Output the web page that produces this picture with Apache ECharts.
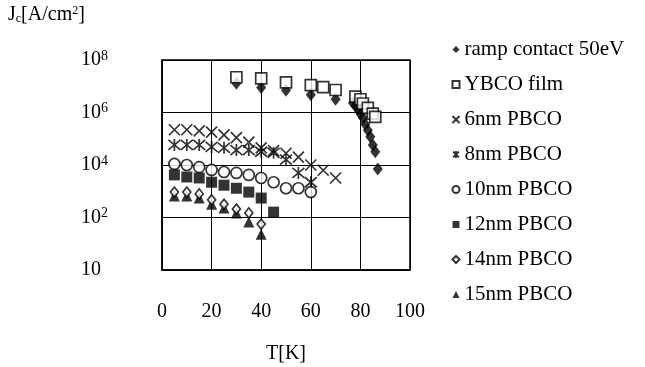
<!DOCTYPE html>
<html>
<head>
<meta charset="utf-8">
<script src="https://cdn.jsdelivr.net/npm/echarts@6/dist/echarts.min.js"></script>
<style>
  html, body { margin: 0; padding: 0; background: #fff; }
  #chart { width: 645px; height: 367px; }
</style>
</head>
<body>
<div id="chart"></div>
<script>
const FONT = "Liberation Serif";

// temperature [K] and critical current density [A/cm2]
const rampT = [30, 40, 50, 60, 70, 77, 78, 79, 80, 81, 82, 83, 84, 85, 86, 87];
const rampJc = [1.3e7, 9e6, 7e6, 4.7e6, 3.2e6, 2.3e6, 1.8e6, 1.3e6, 9e5, 6.3e5, 3.6e5, 2.1e5, 1.2e5, 5.8e4, 3.2e4, 7e3];

const ybcoT = [30, 40, 50, 60, 65, 70, 78, 80, 81, 83, 85, 86];
const ybcoJc = [2.2e7, 2e7, 1.4e7, 1.1e7, 9.3e6, 7.2e6, 4e6, 3.2e6, 2.2e6, 1.5e6, 9e5, 6.8e5];

const pb6T = [5, 10, 15, 20, 25, 30, 35, 40, 45, 50, 55, 60, 65, 70];
const pb6Jc = [2.2e5, 2.2e5, 2e5, 1.8e5, 1.4e5, 1.1e5, 7.5e4, 4.5e4, 3.5e4, 2.8e4, 2e4, 1e4, 6.3e3, 3.2e3];

const pb8T = [5, 10, 15, 20, 25, 30, 35, 40, 45, 50, 55, 60];
const pb8Jc = [5.8e4, 5.8e4, 5.8e4, 4.9e4, 4.5e4, 3.7e4, 3.7e4, 3.2e4, 2.9e4, 1.6e4, 5e3, 2.2e3];

const pb10T = [5, 10, 15, 20, 25, 30, 35, 40, 45, 50, 55, 60];
const pb10Jc = [1.1e4, 1e4, 8.3e3, 6.5e3, 5.4e3, 5e3, 4.2e3, 3.2e3, 2.2e3, 1.3e3, 1.3e3, 930];

const pb12T = [5, 10, 15, 20, 25, 30, 35, 40, 45];
const pb12Jc = [4.2e3, 3.5e3, 3.2e3, 2.2e3, 1.7e3, 1.3e3, 930, 550, 160];

const pb14T = [5, 10, 15, 20, 25, 30, 35, 40];
const pb14Jc = [930, 930, 790, 470, 320, 210, 150, 56];

const pb15T = [5, 10, 15, 20, 25, 30, 35, 40];
const pb15Jc = [660, 660, 550, 320, 230, 150, 68, 23];

const xTicks = [0, 20, 40, 60, 80, 100];

const pairs = (t, v) => t.map((x, i) => [x, v[i]]);

const CROSS = "path://M0,0L10,10M10,0L0,10";
const STAR = "path://M0,0L10,10M10,0L0,10M5,-1L5,11";

const filled = { color: "#000", borderWidth: 0 };
const hollow = { color: "#fff", borderColor: "#000", borderWidth: 1.7 };
const stroke = { color: "none", borderColor: "#000", borderWidth: 1.7 };

const chart = echarts.init(document.getElementById("chart"), null, { renderer: "canvas" });

chart.setOption({
  animation: false,
  backgroundColor: "#fff",
  textStyle: { fontFamily: FONT, color: "#000" },
  grid: {
    left: 162, top: 60, width: 248, height: 210,
    outerBoundsMode: "none",
    show: true, borderColor: "#000", borderWidth: 1.5, backgroundColor: "transparent",
  },
  legend: {
    orient: "vertical",
    left: 445,
    top: 34,
    itemWidth: 7,
    itemHeight: 7,
    itemGap: 14,
    textStyle: { fontFamily: FONT, fontSize: 21, color: "#000", lineHeight: 21 },
    data: [
      "ramp contact 50eV", "YBCO film", "6nm PBCO", "8nm PBCO",
      "10nm PBCO", "12nm PBCO", "14nm PBCO", "15nm PBCO",
    ],
  },
  graphic: [
    {
      type: "text",
      left: 8,
      top: 5,
      style: {
        text: "J{sub|c}[A/cm{sup|2}]",
        font: `20px "${FONT}"`,
        fill: "#000",
        rich: {
          sub: { fontSize: 12, fontFamily: FONT, verticalAlign: "bottom", lineHeight: 14 },
          sup: { fontSize: 12, fontFamily: FONT, verticalAlign: "top", lineHeight: 12 },
        },
      },
    },
  ],
  xAxis: {
    type: "value",
    min: xTicks[0],
    max: xTicks[xTicks.length - 1],
    interval: 20,
    name: "T[K]",
    nameLocation: "middle",
    nameGap: 74,
    nameTextStyle: { fontFamily: FONT, fontSize: 20, color: "#000" },
    axisLine: { lineStyle: { color: "#000", width: 1.5 } },
    axisTick: { show: false },
    axisLabel: { margin: 32, fontFamily: FONT, fontSize: 20, color: "#000" },
    splitLine: { show: true, lineStyle: { color: "#000", width: 1 } },
  },
  yAxis: {
    type: "log",
    logBase: 100,
    min: 1,
    max: 1e8,
    splitNumber: 4,
    axisLine: { show: true, lineStyle: { color: "#000", width: 1.5 } },
    axisTick: { show: false },
    axisLabel: {
      margin: 81,
      align: "left",
      formatter: (v) => {
        const e = Math.round(Math.log10(v));
        return e === 0 ? "{b|10}" : `{b|10}{s|${e}}`;
      },
      rich: {
        b: { fontFamily: FONT, fontSize: 20, color: "#000", lineHeight: 22 },
        s: { fontFamily: FONT, fontSize: 14, color: "#000", verticalAlign: "top", lineHeight: 14 },
      },
    },
    splitLine: { show: true, lineStyle: { color: "#000", width: 1 } },
  },
  series: [
    { name: "ramp contact 50eV", type: "scatter", symbol: "diamond", symbolSize: [10, 13], itemStyle: filled, data: pairs(rampT, rampJc) },
    { name: "YBCO film", type: "scatter", symbol: "rect", symbolSize: 11, itemStyle: hollow, data: pairs(ybcoT, ybcoJc) },
    { name: "6nm PBCO", type: "scatter", symbol: CROSS, symbolSize: 11, itemStyle: stroke, data: pairs(pb6T, pb6Jc) },
    { name: "8nm PBCO", type: "scatter", symbol: STAR, symbolSize: 12, itemStyle: stroke, data: pairs(pb8T, pb8Jc) },
    { name: "10nm PBCO", type: "scatter", symbol: "circle", symbolSize: 11, itemStyle: hollow, data: pairs(pb10T, pb10Jc) },
    { name: "12nm PBCO", type: "scatter", symbol: "rect", symbolSize: 11, itemStyle: filled, data: pairs(pb12T, pb12Jc) },
    { name: "15nm PBCO", type: "scatter", symbol: "triangle", symbolSize: 11, itemStyle: filled, data: pairs(pb15T, pb15Jc) },
    { name: "14nm PBCO", type: "scatter", symbol: "diamond", symbolSize: [8, 10], itemStyle: hollow, data: pairs(pb14T, pb14Jc) },
  ],
});
</script>
</body>
</html>
